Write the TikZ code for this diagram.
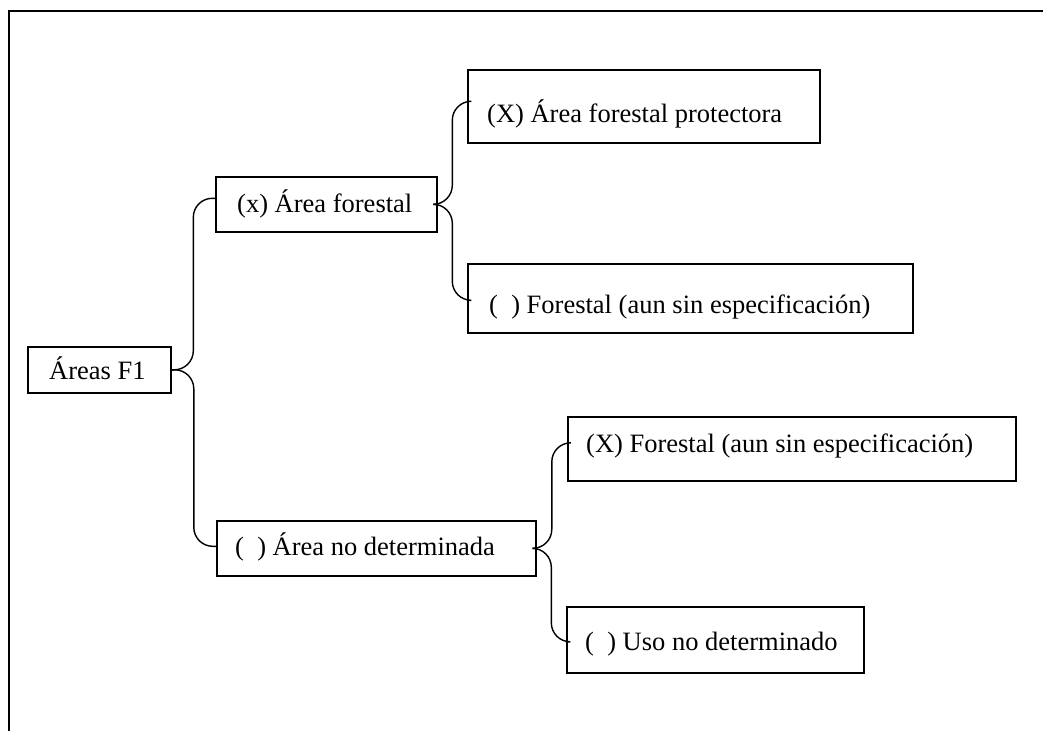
\documentclass[tikz,border=0pt]{standalone}
\usepackage{fontspec}
\setmainfont{Liberation Serif}
\usetikzlibrary{calc}
\begin{document}
\begin{tikzpicture}[x=1pt,y=-1pt,
  box/.style={draw, line width=1.6pt, inner sep=0pt, anchor=north west},
  lbl/.style={anchor=base west, inner sep=0pt, font=\fontsize{26.5}{30}\selectfont},
  conn/.style={draw, line width=1.4pt, rounded corners=19pt},
  frame/.style={line width=2pt}]
\useasboundingbox (0,0) rectangle (1043,731);
\draw[frame] (9,731) -- (9,11) -- (1043,11);
% boxes
\node[box, minimum width=143pt, minimum height=46pt] (f1) at (27,346) {};
\node[box, minimum width=221pt, minimum height=55pt] (af) at (215,176) {};
\node[box, minimum width=352pt, minimum height=73pt] (afp) at (467,69) {};
\node[box, minimum width=445pt, minimum height=69pt] (fse) at (467,263) {};
\node[box, minimum width=319pt, minimum height=55pt] (and) at (216,520) {};
\node[box, minimum width=448pt, minimum height=64pt] (xfse) at (567,416) {};
\node[box, minimum width=297pt, minimum height=66pt] (uso) at (566,606) {};
% labels
\node[lbl] (tf1) at (49,379) {Áreas F1};
\node[lbl] (taf) at (237,212) {(x) Área forestal};
\node[lbl] (tafp) at (487,122) {(X) Área forestal protectora};
\node[lbl] (tfse) at (489,313) {(\ \ ) Forestal (aun sin especificación)};
\node[lbl] (tand) at (235,555) {(\ \ ) Área no determinada};
\node[lbl] (txfse) at (586,452) {(X) Forestal (aun sin especificación)};
\node[lbl] (tuso) at (585,650) {(\ \ ) Uso no determinado};
% braces
\newcommand{\bracelink}[3]{%
  \draw[conn] let \p1=(#1.east), \p2=($(#2.west)+(0,#3)$), \n1={(\x1+\x2)/2} in
    (\p1) -- (\n1,\y1) -- (\n1,\y2) -- (\p2);}
\bracelink{f1}{af}{-6}
\bracelink{f1}{and}{-2}
\bracelink{af}{afp}{-5}
\bracelink{af}{fse}{2}
\bracelink{and}{xfse}{-6}
\bracelink{and}{uso}{2}
\end{tikzpicture}
\end{document}
